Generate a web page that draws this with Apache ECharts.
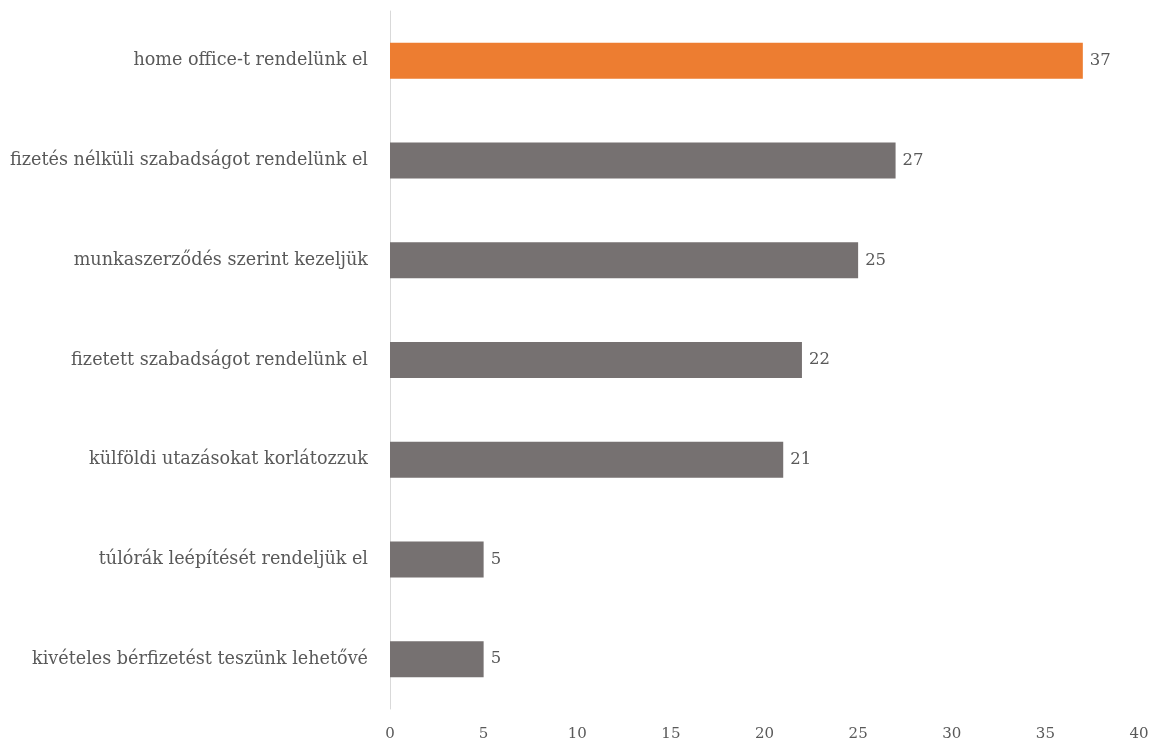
<!DOCTYPE html>
<html>
<head>
<meta charset="utf-8">
<script src="https://cdn.jsdelivr.net/npm/echarts@6/dist/echarts.min.js"></script>
<style>html,body{margin:0;padding:0;background:#fff;}#c{width:1152px;height:745px;}</style>
</head>
<body>
<div id="c"></div>
<script>
const categories = [
  "home office-t rendelünk el",
  "fizetés nélküli szabadságot rendelünk el",
  "munkaszerződés szerint kezeljük",
  "fizetett szabadságot rendelünk el",
  "külföldi utazásokat korlátozzuk",
  "túlórák leépítését rendeljük el",
  "kivételes bérfizetést teszünk lehetővé"
];
const values = [37, 27, 25, 22, 21, 5, 5];
const highlightIndex = 0;
const axisMin = 0, axisMax = 40, axisStep = 5;

const font = "'DejaVu Serif', 'Liberation Serif', serif";
const chart = echarts.init(document.getElementById('c'));
chart.setOption({
  animation: false,
  grid: { left: 390, right: 13, top: 11, bottom: 36, containLabel: false },
  xAxis: {
    type: 'value', min: axisMin, max: axisMax, interval: axisStep,
    splitLine: { show: false },
    axisLine: { show: false }, axisTick: { show: false },
    axisLabel: { color: '#595959', fontFamily: font, fontSize: 15, margin: 18 }
  },
  yAxis: {
    type: 'category', inverse: true, data: categories,
    axisLine: { show: true, lineStyle: { color: '#D9D9D9', width: 1 } },
    axisTick: { show: false },
    axisLabel: { color: '#595959', fontFamily: font, fontSize: 17.6, margin: 22 }
  },
  series: [{
    type: 'bar', barWidth: 36,
    data: values.map((v, i) => ({ value: v, itemStyle: { color: i === highlightIndex ? '#ED7D31' : '#767171' } })),
    label: { show: true, position: 'right', distance: 7, color: '#595959', fontFamily: font, fontSize: 16.5 }
  }]
});
</script>
</body>
</html>
